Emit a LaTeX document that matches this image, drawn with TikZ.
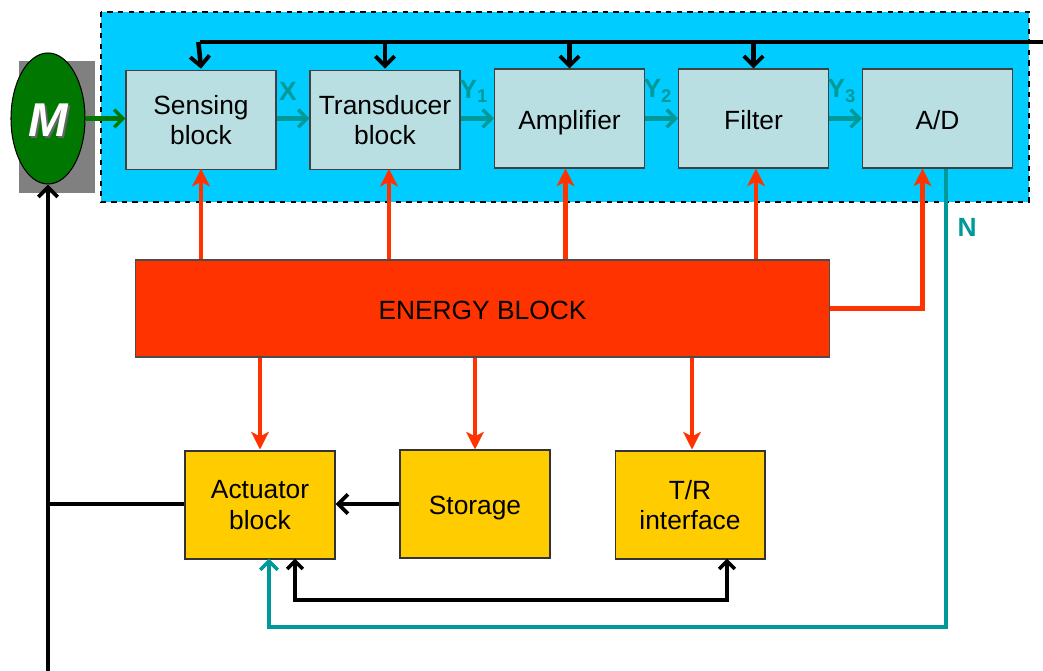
\documentclass[tikz,border=0pt]{standalone}
\usepackage{fontspec}
\setmainfont{Liberation Sans}
\usetikzlibrary{arrows.meta,shapes.geometric,calc}
\definecolor{skyb}{HTML}{00CCFF}
\definecolor{boxb}{HTML}{B9DFE3}
\definecolor{enrg}{HTML}{FF3300}
\definecolor{gold}{HTML}{FFCC00}
\definecolor{tealc}{HTML}{009999}
\definecolor{mgreen}{HTML}{007700}
\begin{document}
\begin{tikzpicture}[x=0.02cm,y=-0.02cm,
  blk/.style={draw=black!75,line width=0.6pt,fill=boxb,minimum width=3cm,minimum height=1.98cm,align=center,font=\fontsize{15}{17.5}\selectfont},
  oneline/.style={text height=13pt,text depth=0.5pt},
  ybox/.style={draw=black!80,line width=0.6pt,fill=gold,minimum width=3cm,minimum height=2.16cm,align=center,font=\fontsize{15}{17.5}\selectfont},
  busline/.style={line width=2.6pt,black},
  busarr/.style={line width=2.6pt,black,-{Straight Barb[length=5.5pt,width=11pt,line width=2.2pt]}},
  sigarr/.style={line width=2.4pt,tealc,-{Straight Barb[length=5pt,width=10pt,line width=2pt]}},
  pwr/.style={line width=2.6pt,enrg,-{Stealth[length=10pt,width=10pt,inset=2.5pt]}},
  lbl/.style={text=tealc,font=\bfseries\fontsize{15}{18}\selectfont},
  ctl/.style={line width=2.6pt,black,{Straight Barb[length=4.5pt,width=9pt,line width=2pt]}-{Straight Barb[length=4.5pt,width=9pt,line width=2pt]}}
]
\useasboundingbox (0,0) rectangle (1043,671);
% system box
\draw[fill=skyb,dashed,line width=0.8pt] (101,12) rectangle (1029,202);
% M
\fill[black!50] (19,61) rectangle (95,193);
\node[ellipse,draw=black,line width=0.6pt,fill=mgreen,minimum width=1.48cm,minimum height=2.62cm,inner sep=0pt] (M) at (48,118.5) {};
\node[text=black!60,font=\bfseries\itshape\fontsize{27}{28}\selectfont] (Msh) at (50,122) {M};
\node[text=white,font=\bfseries\itshape\fontsize{27}{28}\selectfont] (Mt) at (48,120) {M};
% blocks
\node[blk] (sense) at (201,120) {Sensing\\block};
\node[blk] (trans) at (385,120) {Transducer\\block};
\node[blk,oneline] (amp) at (569.5,118.5) {Amplifier};
\node[blk,oneline] (filt) at (753.5,118.5) {Filter};
\node[blk,oneline] (ad) at (937.5,118.5) {A/D};
% energy
\node[draw=black!70,line width=0.6pt,fill=enrg,minimum width=13.9cm,minimum height=1.94cm,oneline,font=\fontsize{15}{18}\selectfont] (energy) at (482.5,308.5) {ENERGY BLOCK};
% bottom boxes
\node[ybox] (act) at (260,505) {Actuator\\block};
\node[ybox,oneline] (stor) at (475,504) {Storage};
\node[ybox] (tr) at (690,505) {T/R\\interface};
% bus
\coordinate (busL) at (200,42);
\coordinate (busR) at (1043,42);
\draw[busline] (busL) -- (busR);
\draw[busarr] ([xshift=-0.9pt]busL) -- ([yshift=0.75pt]sense.north);
\draw[busarr] (trans.north |- busL) -- ([yshift=0.75pt]trans.north);
\draw[busarr] (amp.north |- busL) -- (amp.north);
\draw[busarr] (filt.north |- busL) -- (filt.north);
% signal chain
\draw[line width=2.4pt,mgreen,-{Straight Barb[length=5pt,width=10pt,line width=2pt]}] (M.east) -- (sense.west |- M.east);
\draw[sigarr] (sense.east |- amp.west) -- (trans.west |- amp.west);
\draw[sigarr] (trans.east |- amp.west) -- (amp.west);
\draw[sigarr] (amp.east) -- (filt.west);
\draw[sigarr] (filt.east) -- (ad.west);
\node[lbl] (lx) at (288,91) {X};
\node[lbl] (ly1) at (474,91) {Y\textsubscript{1}};
\node[lbl] (ly2) at (658,91) {Y\textsubscript{2}};
\node[lbl] (ly3) at (842,91) {Y\textsubscript{3}};
% power up
\draw[pwr] (sense.south |- energy.north) -- ([yshift=0.75pt]sense.south);
\draw[pwr] ([xshift=0.08cm]trans.south |- energy.north) -- ([xshift=0.08cm,yshift=0.75pt]trans.south);
\draw[pwr] ([xshift=-0.08cm]amp.south |- energy.north) -- ([xshift=-0.08cm]amp.south);
\draw[pwr] ([xshift=0.05cm]filt.south |- energy.north) -- ([xshift=0.05cm]filt.south);
\draw[pwr] (energy.east) -| ([xshift=-0.3cm]ad.south);
% power down
\draw[pwr] (act.north |- energy.south) -- ([yshift=0.55pt]act.north);
\draw[pwr] (stor.north |- energy.south) -- (stor.north);
\draw[pwr] ([xshift=0.04cm]tr.north |- energy.south) -- ([xshift=0.04cm,yshift=0.55pt]tr.north);
% storage -> actuator
\draw[busarr] (stor.west) -- (act.east |- stor.west);
% actuator -> M
\coordinate (mbot) at (48,671);
\coordinate (mj) at (48,504);
\draw[busarr] (mbot) -- (M.south);
\draw[busline] (act.west |- mj) -- (mj);
% actuator <-> T/R
\coordinate (actB) at ([xshift=0.7cm,yshift=0.55pt]act.south);
\coordinate (trB) at ([xshift=0.74cm,yshift=0.55pt]tr.south);
\coordinate (bl) at (0,600);
\draw[ctl] (actB) -- (actB |- bl) -| (trB);
% A/D -> actuator (N)
\coordinate (adN) at ([xshift=0.17cm]ad.south);
\coordinate (actT) at ([xshift=0.18cm,yshift=0.55pt]act.south);
\coordinate (tl) at (0,627);
\draw[sigarr] (adN) -- (adN |- tl) -| (actT);
\node[lbl] (ln) at (967,227) {N};
\end{tikzpicture}
\end{document}
